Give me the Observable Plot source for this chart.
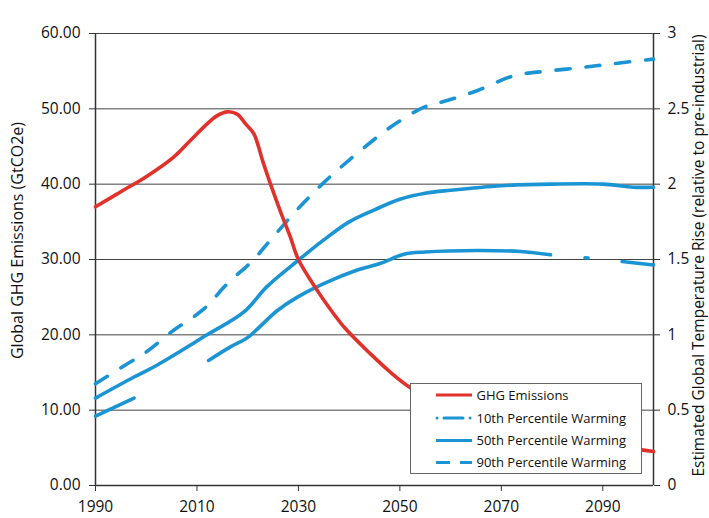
<!DOCTYPE html>
<html>
<head>
<meta charset="utf-8">
<script src="https://cdn.jsdelivr.net/npm/d3@7"></script>
<script src="https://cdn.jsdelivr.net/npm/@observablehq/plot@0.6"></script>
<style>
  body { margin: 0; background: #fff; }
  #wrap { position: relative; width: 709px; height: 518px; overflow: hidden; }
  #legend { position: absolute; left: 410px; top: 383px; }
</style>
</head>
<body>
<div id="wrap"></div>
<script>
// ---- data ----
const xTicks = [1990, 2010, 2030, 2050, 2070, 2090];
const leftTicks = [0, 10, 20, 30, 40, 50, 60];
const rightTicks = [0, 0.5, 1, 1.5, 2, 2.5, 3];

const seriesNames = ["GHG Emissions", "10th Percentile Warming", "50th Percentile Warming", "90th Percentile Warming"];

// GHG emissions (GtCO2e, left axis)
const ghgYears  = [1990, 1995, 2000, 2005.4, 2008.7, 2012, 2014, 2016, 2017.9, 2019.6, 2021.2, 2023, 2024.5, 2026.5, 2028.4, 2030, 2033.7, 2036.5, 2039.3, 2044, 2048.2, 2052, 2060, 2070, 2080, 2090, 2097, 2100];
const ghgValues = [37.0, 39.0, 41.0, 43.6, 45.8, 48.0, 49.1, 49.6, 49.3, 48.0, 46.7, 43.0, 40.0, 36.3, 33.0, 30.0, 25.9, 23.2, 20.8, 17.6, 15.0, 13.0, 9.8, 7.4, 6.0, 5.2, 4.8, 4.5];

// 10th percentile warming (°C, right axis) — visible pieces of the dash-dot line
const p10Years    = [1990, 1997.6, 2012.3, 2016.6, 2019.9, 2025.8, 2029.8, 2035, 2041.6, 2046.2, 2050.8, 2055, 2065.2, 2073.8, 2079.7, 2086.5, 2087.1, 2093.8, 2100];
const p10Values   = [0.46, 0.58, 0.83, 0.92, 0.98, 1.16, 1.25, 1.34, 1.43, 1.475, 1.535, 1.55, 1.56, 1.553, 1.531, 1.512, 1.51, 1.487, 1.464];
const p10Segments = [1, 1, 2, 2, 2, 2, 2, 2, 2, 2, 2, 2, 2, 2, 2, 3, 3, 4, 4];

// 50th percentile warming
const p50Years  = [1990, 1997.6, 2002.2, 2012, 2019.2, 2023.8, 2029.8, 2035, 2040, 2045, 2050, 2055, 2060, 2070, 2080, 2090, 2096, 2100];
const p50Values = [0.58, 0.72, 0.80, 1.00, 1.15, 1.32, 1.49, 1.63, 1.75, 1.83, 1.90, 1.94, 1.96, 1.99, 2.00, 2.00, 1.98, 1.98];

// 90th percentile warming
const p90Years  = [1990, 1995.9, 1999.5, 2005.4, 2011.3, 2016, 2020.9, 2024.5, 2030, 2035, 2040, 2046.2, 2050, 2054.7, 2059.3, 2065.2, 2072.5, 2079, 2086.3, 2092.2, 2100];
const p90Values = [0.675, 0.80, 0.874, 1.03, 1.17, 1.34, 1.49, 1.63, 1.84, 2.01, 2.16, 2.33, 2.42, 2.51, 2.555, 2.62, 2.72, 2.75, 2.776, 2.80, 2.83];

// ---- styling ----
const RED = "#e0312a";
const BLUE = "#1b94d4";
const AXIS = "#333";
const FONT = "'Open Sans', 'Noto Sans', sans-serif";
const k = 60 / 3; // right-axis to left-axis factor

const ghg = ghgYears.map((x, i) => ({x, v: ghgValues[i]}));
const p10 = p10Years.map((x, i) => ({x, t: p10Values[i], seg: p10Segments[i]}));
const p50 = p50Years.map((x, i) => ({x, t: p50Values[i]}));
const p90 = p90Years.map((x, i) => ({x, t: p90Values[i]}));

const chart = Plot.plot({
  width: 709,
  height: 518,
  marginLeft: 95,
  marginRight: 56,
  marginTop: 33,
  marginBottom: 33,
  style: {fontFamily: FONT, fontSize: "15.5px", color: "#111", background: "#fff", overflow: "visible"},
  x: {domain: [1990, 2100]},
  y: {domain: [0, 60]},
  marks: [
    Plot.gridY(leftTicks, {stroke: "#444", strokeOpacity: 1, strokeWidth: 1}),
    Plot.axisX(xTicks, {tickFormat: "d", tickSize: 6, tickPadding: 9, stroke: AXIS, label: null}),
    Plot.axisY(leftTicks, {anchor: "left", tickFormat: ".2f", tickSize: 6, tickPadding: 9, stroke: AXIS, label: null}),
    Plot.axisY(rightTicks, {anchor: "right", y: d => d * k, tickFormat: d => String(d), tickSize: 6, tickPadding: 8, stroke: AXIS, label: null}),
    Plot.ruleX([1990, 2100], {stroke: AXIS, strokeWidth: 1.5}),
    Plot.ruleY([0], {stroke: AXIS, strokeWidth: 1.5}),
    Plot.line(p90, {x: "x", y: d => d.t * k, stroke: BLUE, strokeWidth: 3.6, strokeDasharray: "14,16", strokeLinecap: "round", curve: "catmull-rom"}),
    Plot.line(p50, {x: "x", y: d => d.t * k, stroke: BLUE, strokeWidth: 3.6, curve: "catmull-rom"}),
    Plot.line(p10, {x: "x", y: d => d.t * k, z: "seg", stroke: BLUE, strokeWidth: 3.6, strokeLinecap: "round", curve: "catmull-rom"}),
    Plot.line(ghg, {x: "x", y: "v", stroke: RED, strokeWidth: 3.6, curve: "catmull-rom"}),
    Plot.text(["Global GHG Emissions (GtCO2e)"], {frameAnchor: "left", text: d => d, rotate: -90, dx: -78, dy: -19, fontSize: 16, fill: "#111", lineAnchor: "middle", textAnchor: "middle"}),
    Plot.text(["Estimated Global Temperature Rise (relative to pre-industrial)"], {frameAnchor: "right", text: d => d, rotate: -90, dx: 45.5, dy: -4, fontSize: 15.5, fill: "#111", lineAnchor: "middle", textAnchor: "middle"})
  ]
});

const wrap = document.getElementById("wrap");
wrap.appendChild(chart);

// ---- legend overlay (inside plot area, as in reference) ----
const lw = 231, lh = 90;
const leg = d3.select(wrap).append("svg")
  .attr("id", "legend")
  .attr("width", lw + 2).attr("height", lh + 2)
  .style("font-family", FONT);
leg.append("rect").attr("x", 0.5).attr("y", 0.5).attr("width", lw).attr("height", lh)
  .attr("fill", "#fff").attr("stroke", "#666").attr("stroke-width", 1);
const rowY = [12, 35, 57.5, 79.5];
const styles = [
  {color: RED, dash: null},
  {color: BLUE, dash: "0,7,19,7,0,5,0,20"},
  {color: BLUE, dash: null},
  {color: BLUE, dash: "14,10"}
];
seriesNames.forEach((name, i) => {
  const g = leg.append("g").attr("transform", `translate(0,${rowY[i]})`);
  const ln = g.append("line").attr("x1", 26).attr("x2", 62).attr("y1", 0).attr("y2", 0)
    .attr("stroke", styles[i].color).attr("stroke-width", 3);
  if (styles[i].dash) {
    ln.attr("stroke-dasharray", styles[i].dash);
    if (i === 1) ln.attr("stroke-linecap", "round").attr("x1", 27).attr("x2", 61);
  }
  g.append("text").attr("x", 66.5).attr("y", 0).attr("dy", "0.35em")
    .attr("font-size", 13).attr("fill", "#111").text(name);
});
</script>
</body>
</html>
